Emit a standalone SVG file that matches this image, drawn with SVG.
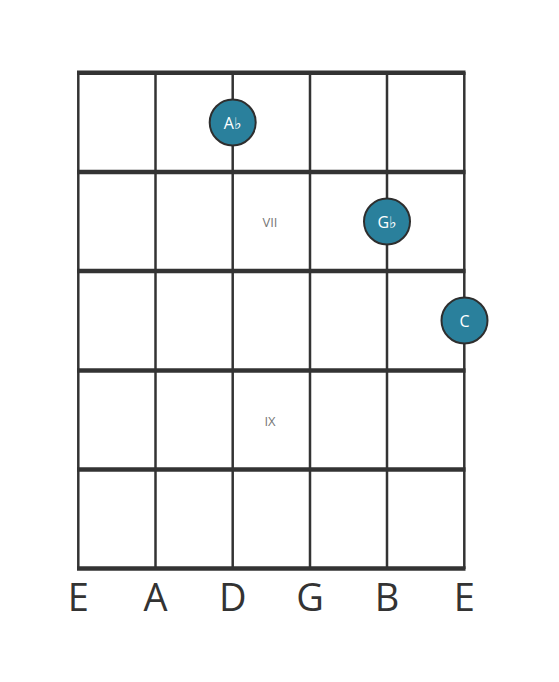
<svg xmlns="http://www.w3.org/2000/svg" width="559" height="682" viewBox="0 0 559 682">
<style>
.str{stroke:#333;stroke-width:2.5;fill:none}
.fret{stroke:#333;stroke-width:4.5;fill:none}
.note circle{fill:#2a809c;stroke:#2e2e2e;stroke-width:2}
.note text{fill:#fff;font-family:"Open Sans","DejaVu Sans",sans-serif;font-size:16px;text-anchor:middle}
.pos{fill:#777;font-family:"Open Sans","DejaVu Sans",sans-serif;font-size:13px;text-anchor:middle}
.sname{fill:#333;font-family:"Open Sans","DejaVu Sans",sans-serif;font-size:38px;text-anchor:middle}
</style>
<rect width="559" height="682" fill="#fff"/>
<g id="connectors">
<line class="str" x1="78.3" y1="72" x2="78.3" y2="569"/>
<line class="str" x1="155.5" y1="72" x2="155.5" y2="569"/>
<line class="str" x1="232.7" y1="72" x2="232.7" y2="569"/>
<line class="str" x1="310" y1="72" x2="310" y2="569"/>
<line class="str" x1="387" y1="72" x2="387" y2="569"/>
<line class="str" x1="464.3" y1="72" x2="464.3" y2="569"/>
<line class="fret" x1="77" y1="72.8" x2="465.5" y2="72.8"/>
<line class="fret" x1="77" y1="172" x2="465.5" y2="172"/>
<line class="fret" x1="77" y1="271" x2="465.5" y2="271"/>
<line class="fret" x1="77" y1="370.5" x2="465.5" y2="370.5"/>
<line class="fret" x1="77" y1="469.5" x2="465.5" y2="469.5"/>
<line class="fret" x1="77" y1="568.5" x2="465.5" y2="568.5"/>
</g>
<text class="pos" x="270" y="227">VII</text>
<text class="pos" x="270" y="426">IX</text>
<g id="note-ab" class="note"><circle cx="232.7" cy="122.5" r="23"/><text x="232.7" y="128.5">A♭</text></g>
<g id="note-gb" class="note"><circle cx="387" cy="221.5" r="23"/><text x="387" y="227.5">G♭</text></g>
<g id="note-c" class="note"><circle cx="464.5" cy="320.5" r="23"/><text x="464.5" y="326.5">C</text></g>
<g id="string-names">
<text class="sname" x="78.3" y="611">E</text>
<text class="sname" x="155.5" y="611">A</text>
<text class="sname" x="232.7" y="611">D</text>
<text class="sname" x="310" y="611">G</text>
<text class="sname" x="387" y="611">B</text>
<text class="sname" x="464.3" y="611">E</text>
</g>
</svg>
